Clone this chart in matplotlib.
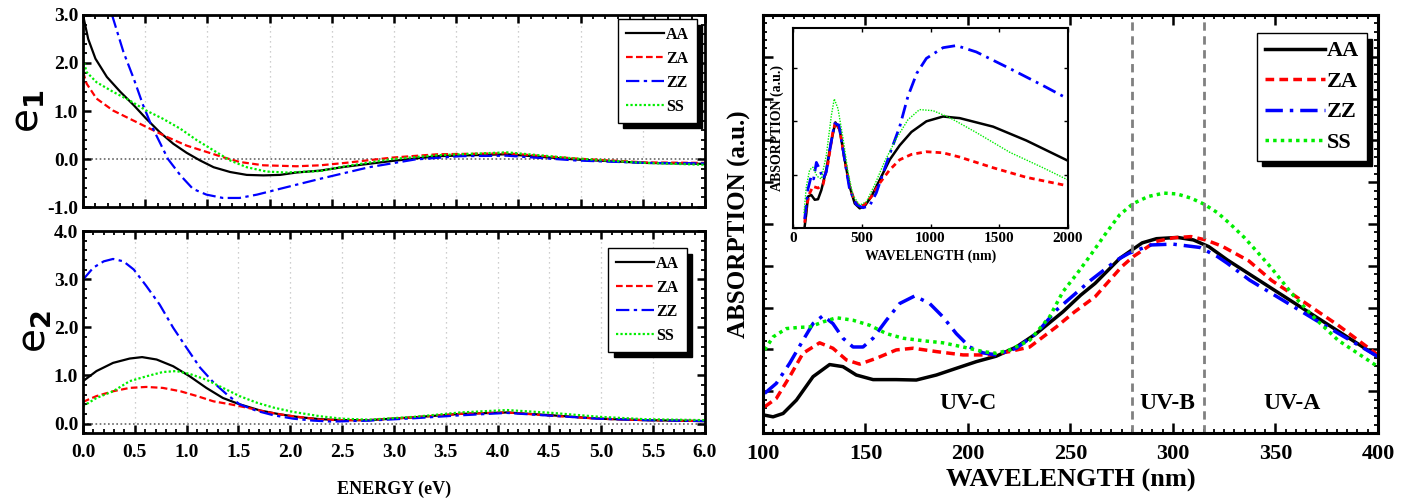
import numpy as np
import matplotlib
matplotlib.use('Agg')
import matplotlib.pyplot as plt
from matplotlib.ticker import MultipleLocator, NullFormatter

plt.rcParams['font.family'] = ['Liberation Serif', 'DejaVu Serif']
plt.rcParams['font.weight'] = 'bold'
plt.rcParams['axes.labelweight'] = 'bold'
plt.rcParams['mathtext.fontset'] = 'dejavusans'

## ---------------- e1 (real part) ----------------
e1_aa_x = [0.0, 0.05, 0.12, 0.23, 0.36, 0.49, 0.61, 0.74, 0.87, 1.0, 1.13, 1.26, 1.42, 1.58, 1.74, 1.9, 2.06, 2.29,
           2.53, 2.98, 3.42, 4.09, 4.76, 5.42, 6.0]
e1_aa_y = [3.0, 2.5, 2.09, 1.71, 1.4, 1.12, 0.84, 0.56, 0.32, 0.13, -0.03, -0.17, -0.27, -0.33, -0.34, -0.33, -0.28, -0.24,
           -0.16, -0.04, 0.06, 0.1, -0.01, -0.08, -0.1]

e1_za_x = [0.0, 0.035, 0.13, 0.29, 0.45, 0.61, 0.81, 1.0, 1.19, 1.35, 1.51, 1.74, 2.06, 2.29, 2.53, 2.98, 3.42, 4.09, 4.76,
           5.42, 6.0]
e1_za_y = [1.81, 1.57, 1.26, 1.01, 0.84, 0.67, 0.46, 0.28, 0.15, 0.04, -0.06, -0.13, -0.15, -0.13, -0.08, 0.03, 0.1, 0.12,
           0.01, -0.07, -0.08]

e1_zz_x = [0.28, 0.39, 0.49, 0.58, 0.66, 0.74, 0.82, 0.94, 1.06, 1.19, 1.35, 1.51, 1.68, 1.9, 2.29, 2.76, 3.2, 3.64, 4.09,
           4.76, 5.42, 6.0]
e1_zz_y = [3.0, 2.23, 1.67, 1.12, 0.7, 0.35, 0.0, -0.34, -0.62, -0.74, -0.81, -0.81, -0.74, -0.62, -0.41, -0.17, -0.01,
           0.06, 0.07, -0.03, -0.08, -0.09]

e1_ss_x = [0.0, 0.035, 0.13, 0.29, 0.45, 0.61, 0.77, 0.94, 1.1, 1.26, 1.42, 1.58, 1.77, 1.96, 2.29, 2.53, 2.98, 3.42,
           4.09, 4.76, 5.42, 6.0]
e1_ss_y = [2.09, 1.81, 1.6, 1.4, 1.22, 1.01, 0.84, 0.63, 0.39, 0.18, -0.03, -0.17, -0.26, -0.28, -0.25, -0.15, 0.0, 0.08,
           0.14, 0.01, -0.08, -0.12]

## ---------------- e2 (imaginary part) ----------------
e2_aa_x = [0.0, 0.13, 0.29, 0.45, 0.57, 0.71, 0.87, 1.03, 1.19, 1.35, 1.51, 1.71, 1.9, 2.09, 2.29, 2.5, 2.76, 3.2, 3.64,
           4.09, 4.53, 4.98, 5.42, 6.0]
e2_aa_y = [0.88, 1.09, 1.26, 1.35, 1.38, 1.33, 1.19, 0.98, 0.74, 0.53, 0.4, 0.27, 0.19, 0.13, 0.09, 0.07, 0.07, 0.13, 0.2,
           0.23, 0.17, 0.1, 0.07, 0.05]

e2_za_x = [0.0, 0.13, 0.29, 0.45, 0.61, 0.77, 0.94, 1.1, 1.26, 1.42, 1.58, 1.77, 1.96, 2.29, 2.5, 2.76, 3.2, 3.64, 4.09,
           4.53, 4.98, 5.42, 6.0]
e2_za_y = [0.45, 0.57, 0.67, 0.74, 0.76, 0.74, 0.67, 0.57, 0.46, 0.4, 0.33, 0.24, 0.17, 0.08, 0.07, 0.07, 0.13, 0.2, 0.23,
           0.16, 0.1, 0.07, 0.05]

e2_zz_x = [0.0, 0.1, 0.2, 0.29, 0.39, 0.49, 0.61, 0.74, 0.87, 1.0, 1.13, 1.26, 1.39, 1.51, 1.68, 1.84, 2.03, 2.22, 2.4,
           2.76, 3.2, 3.64, 4.09, 4.53, 4.98, 5.42, 6.0]
e2_zz_y = [2.99, 3.24, 3.37, 3.42, 3.37, 3.2, 2.86, 2.47, 1.99, 1.57, 1.16, 0.85, 0.6, 0.4, 0.26, 0.17, 0.1, 0.06, 0.04,
           0.06, 0.11, 0.17, 0.22, 0.16, 0.1, 0.07, 0.05]

e2_ss_x = [0.0, 0.13, 0.29, 0.45, 0.61, 0.77, 0.9, 1.03, 1.19, 1.35, 1.51, 1.68, 1.84, 2.03, 2.29, 2.5, 2.76, 3.2, 3.64,
           4.09, 4.53, 4.98, 5.42, 6.0]
e2_ss_y = [0.36, 0.53, 0.67, 0.88, 0.98, 1.07, 1.09, 1.03, 0.91, 0.74, 0.57, 0.43, 0.33, 0.24, 0.15, 0.1, 0.08, 0.14,
           0.23, 0.28, 0.22, 0.14, 0.09, 0.07]

## ---------------- absorption, UV range (a.u.) ----------------
abs_aa_x = [100.8, 104.9, 109.8, 116.3, 124.4, 132.5, 139.0, 145.5, 153.7, 165.0, 174.8, 184.6, 194.3, 204.1, 213.8,
            223.6, 233.3, 246.3, 255, 262, 274.1, 285, 292, 302.3, 310, 317.5, 326.6, 337.4, 348.2, 359.0, 369.8,
            380.6, 400]
abs_aa_y = [0.043, 0.039, 0.047, 0.079, 0.135, 0.164, 0.159, 0.139, 0.128, 0.128, 0.127, 0.139, 0.155, 0.171, 0.184,
            0.206, 0.238, 0.29, 0.33, 0.358, 0.418, 0.455, 0.465, 0.468, 0.462, 0.446, 0.414, 0.38, 0.346, 0.312, 0.278,
            0.244, 0.183]

abs_za_x = [100.8, 106.5, 113.0, 119.5, 127.6, 134.1, 140.7, 147.2, 155.3, 165.0, 173.2, 184.6, 197.6, 210.6, 220.3,
            230.1, 243.1, 252, 262, 275, 280.6, 291.5, 300, 308.8, 316, 324, 337, 348.2, 359.0, 369.8, 380.6, 400]
abs_za_y = [0.063, 0.083, 0.135, 0.191, 0.216, 0.203, 0.175, 0.165, 0.179, 0.199, 0.203, 0.195, 0.187, 0.187, 0.195,
            0.206, 0.254, 0.29, 0.326, 0.398, 0.422, 0.458, 0.467, 0.47, 0.462, 0.447, 0.412, 0.365, 0.33, 0.294, 0.258,
            0.187]

abs_zz_x = [100.8, 106.5, 113.0, 119.5, 124.4, 129.3, 134.1, 139.0, 143.9, 148.8, 153.7, 160.2, 166.7, 174.0, 181.3,
            187.8, 194.3, 200.8, 207.3, 213.8, 223.6, 233.3, 243.1, 260, 272.7, 278.5, 289.3, 300, 313.2, 321.8, 326.6,
            337.4, 348.2, 359.0, 369.8, 380.6, 400]
abs_zz_y = [0.095, 0.119, 0.167, 0.222, 0.262, 0.281, 0.262, 0.227, 0.206, 0.206, 0.227, 0.27, 0.31, 0.328, 0.31, 0.278,
            0.238, 0.206, 0.192, 0.187, 0.203, 0.238, 0.294, 0.366, 0.414, 0.43, 0.45, 0.452, 0.444, 0.422, 0.406, 0.366,
            0.334, 0.302, 0.27, 0.239, 0.183]

abs_ss_x = [100.8, 104.9, 111.4, 117.9, 122.8, 129.3, 135.8, 143.9, 152.0, 160.2, 168.3, 178.0, 187.8, 197.6, 207.3,
            213.8, 220.3, 230.1, 239.8, 246.3, 253, 259, 267.6, 274, 280.6, 288, 295.6, 302, 308.8, 315, 321.8, 328,
            334.8, 341.4, 348.2, 359.0, 369.8, 380.6, 400]
abs_ss_y = [0.199, 0.23, 0.25, 0.253, 0.254, 0.266, 0.276, 0.27, 0.258, 0.238, 0.227, 0.221, 0.216, 0.206, 0.195, 0.191,
            0.199, 0.222, 0.278, 0.338, 0.38, 0.42, 0.48, 0.522, 0.549, 0.566, 0.574, 0.572, 0.562, 0.548, 0.527, 0.5,
            0.468, 0.432, 0.394, 0.328, 0.272, 0.222, 0.159]

## ---------------- absorption, full range (inset) ----------------
ins_aa_x = [85, 97, 109, 133, 158, 182, 206, 242, 279, 308, 340, 376, 412, 449, 485, 521, 570, 630, 703, 776, 861, 970,
            1091, 1212, 1455, 1697, 2000]
ins_aa_y = [0.03, 0.28, 0.59, 0.62, 0.53, 0.54, 0.71, 1.09, 1.63, 1.98, 1.84, 1.28, 0.78, 0.46, 0.37, 0.41, 0.59, 0.9,
            1.28, 1.55, 1.8, 2.0, 2.09, 2.06, 1.9, 1.64, 1.26]

ins_za_x = [85, 97, 121, 145, 182, 218, 255, 291, 310, 340, 376, 412, 449, 485, 521, 570, 630, 703, 776, 861, 970, 1091,
            1212, 1455, 1697, 2000]
ins_za_y = [0.1, 0.4, 0.65, 0.78, 0.75, 0.81, 1.22, 1.82, 1.98, 1.84, 1.28, 0.78, 0.5, 0.4, 0.44, 0.59, 0.84, 1.09, 1.28,
            1.38, 1.43, 1.41, 1.33, 1.13, 0.95, 0.79]

ins_zz_x = [85, 109, 133, 150, 170, 194, 218, 242, 273, 303, 334, 376, 412, 461, 509, 558, 606, 655, 715, 776, 836, 900,
            970, 1091, 1188, 1333, 1576, 1818, 2000]
ins_zz_y = [0.17, 0.73, 0.98, 0.92, 1.23, 1.1, 0.92, 1.05, 1.55, 1.96, 1.93, 1.28, 0.72, 0.44, 0.38, 0.42, 0.66, 1.03,
            1.47, 1.9, 2.47, 2.9, 3.18, 3.38, 3.42, 3.3, 2.99, 2.67, 2.42]

ins_ss_x = [80, 97, 121, 145, 175, 206, 242, 279, 300, 327, 364, 400, 436, 485, 533, 594, 667, 752, 836, 920, 1018, 1139,
            1333, 1576, 1818, 2000]
ins_ss_y = [0.28, 0.78, 1.09, 1.14, 0.97, 0.92, 1.36, 2.11, 2.42, 2.24, 1.68, 1.05, 0.61, 0.43, 0.49, 0.81, 1.25, 1.68,
            2.03, 2.22, 2.2, 2.07, 1.79, 1.42, 1.13, 0.9]

labels = ['AA', 'ZA', 'ZZ', 'SS']
colors = ['black', 'red', 'blue', '#00ee00']
styles = ['-', (0, (3, 1.5)), (0, (6, 2, 1.5, 2)), (0, (1, 1))]

fig = plt.figure(figsize=(14.07, 4.99), dpi=100)

def style_axes(ax, lw=2.0):
    for s in ax.spines.values():
        s.set_linewidth(lw)
    ax.tick_params(which='both', direction='in', top=True, right=True)
    ax.tick_params(which='major', length=6, width=1.8)
    ax.tick_params(which='minor', length=3, width=1.3)

shadow = {'color': 'black', 'alpha': 1, 'ox': 4, 'oy': -4}

## ---------------- left panels ----------------
ax1 = fig.add_axes([0.059, 0.585, 0.442, 0.385])
ax2 = fig.add_axes([0.059, 0.132, 0.442, 0.405])

e1_data = [(e1_aa_x, e1_aa_y), (e1_za_x, e1_za_y), (e1_zz_x, e1_zz_y), (e1_ss_x, e1_ss_y)]
e2_data = [(e2_aa_x, e2_aa_y), (e2_za_x, e2_za_y), (e2_zz_x, e2_zz_y), (e2_ss_x, e2_ss_y)]

for ax, data, anchor in [(ax1, e1_data, (0.987, 0.979)), (ax2, e2_data, (0.971, 0.916))]:
    ax.axhline(0, color='0.4', ls=(0, (1, 1.5)), lw=1.2, zorder=1)
    for (x, y), lab, c, ls in zip(data, labels, colors, styles):
        ax.plot(x, y, color=c, ls=ls, lw=1.6, label=lab)
    style_axes(ax)
    ax.set_xlim(0, 6)
    ax.yaxis.set_major_locator(MultipleLocator(1.0))
    ax.yaxis.set_minor_locator(MultipleLocator(0.2))
    ax.yaxis.set_major_formatter(plt.FormatStrFormatter('%.1f'))
    ax.tick_params(axis='y', labelsize=14)
    ax.grid(axis='x', which='major', color='0.75', ls=(0, (1, 3)), lw=0.9)
    leg = ax.legend(loc='upper right', fontsize=11.5, frameon=True, fancybox=False, shadow=shadow,
                    handlelength=2.4, borderpad=0.5, labelspacing=0.5, handletextpad=0.1,
                    borderaxespad=0, bbox_to_anchor=anchor)
    leg.get_frame().set_edgecolor('black')
    leg.get_frame().set_linewidth(1.0)
    leg.get_frame().set_alpha(1)

ax1.set_ylim(-1, 3)
ax1.xaxis.set_major_locator(MultipleLocator(0.6))
ax1.xaxis.set_minor_locator(MultipleLocator(0.12))
ax1.xaxis.set_major_formatter(NullFormatter())
ax1.set_ylabel('e$_1$', fontsize=28, family='DejaVu Sans', fontweight='normal', labelpad=0)

ax2.set_ylim(-0.2, 4.0)
ax2.xaxis.set_major_locator(MultipleLocator(0.5))
ax2.xaxis.set_minor_locator(MultipleLocator(0.1))
ax2.xaxis.set_major_formatter(plt.FormatStrFormatter('%.1f'))
ax2.tick_params(axis='x', labelsize=14, pad=8)
ax2.set_ylabel('e$_2$', fontsize=28, family='DejaVu Sans', fontweight='normal', labelpad=0)
ax2.set_xlabel('ENERGY (eV)', fontsize=13, labelpad=14)

## ---------------- right panel ----------------
ax3 = fig.add_axes([0.5423, 0.132, 0.437, 0.838])
abs_data = [(abs_aa_x, abs_aa_y), (abs_za_x, abs_za_y), (abs_zz_x, abs_zz_y), (abs_ss_x, abs_ss_y)]
main_styles = ['-', (0, (2.5, 1.5)), (0, (5, 2, 1, 2)), (0, (1, 1.2))]
for (x, y), lab, c, ls in zip(abs_data, labels, colors, main_styles):
    ax3.plot(x, y, color=c, ls=ls, lw=2.5, label=lab)
for xv in [280, 315]:
    ax3.axvline(xv, color='0.5', ls=(0, (3, 2)), lw=2.0)
ax3.text(200, 0.072, 'UV-C', ha='center', va='center', fontsize=17)
ax3.text(297.5, 0.072, 'UV-B', ha='center', va='center', fontsize=17)
ax3.text(358, 0.072, 'UV-A', ha='center', va='center', fontsize=17)
style_axes(ax3, 2.2)
ax3.set_xlim(100, 400)
ax3.set_ylim(0, 1)
ax3.xaxis.set_major_locator(MultipleLocator(50))
ax3.xaxis.set_minor_locator(MultipleLocator(5))
ax3.yaxis.set_major_locator(MultipleLocator(0.1))
ax3.yaxis.set_minor_locator(MultipleLocator(0.02))
ax3.yaxis.set_major_formatter(NullFormatter())
ax3.tick_params(which='major', length=7)
ax3.tick_params(axis='x', labelsize=16, pad=8)
ax3.set_xlabel('WAVELENGTH (nm)', fontsize=19, labelpad=3)
ax3.set_ylabel('ABSORPTION (a.u.)', fontsize=18, labelpad=5)
leg = ax3.legend(loc='upper right', fontsize=16, frameon=True, fancybox=False, shadow=shadow,
                 handlelength=2.7, borderpad=0.35, labelspacing=0.45, handletextpad=0.1,
                 borderaxespad=0, bbox_to_anchor=(0.982, 0.957))
leg.get_frame().set_edgecolor('black')
leg.get_frame().set_linewidth(1.0)
leg.get_frame().set_alpha(1)

## ---------------- inset ----------------
ax4 = fig.add_axes([0.5636, 0.543, 0.1955, 0.401])
ins_data = [(ins_aa_x, ins_aa_y), (ins_za_x, ins_za_y), (ins_zz_x, ins_zz_y), (ins_ss_x, ins_ss_y)]
ins_styles = ['-', (0, (2, 1.5)), (0, (5, 2, 1, 2)), (0, (1, 1))]
ins_lw = [1.8, 2.0, 2.0, 1.0]
for (x, y), c, ls, lw in zip(ins_data, colors, ins_styles, ins_lw):
    ax4.plot(x, y, color=c, ls=ls, lw=lw)
for s in ax4.spines.values():
    s.set_linewidth(1.5)
ax4.tick_params(which='both', direction='in', top=True, right=True, length=3, width=1.0)
ax4.set_xlim(0, 2000)
ax4.set_ylim(0, 3.75)
ax4.xaxis.set_major_locator(MultipleLocator(500))
ax4.yaxis.set_major_locator(MultipleLocator(1))
ax4.yaxis.set_major_formatter(NullFormatter())
ax4.tick_params(axis='x', labelsize=11, pad=3)
ax4.set_xlabel('WAVELENGTH (nm)', fontsize=10, labelpad=3)
ax4.set_ylabel('ABSORPTION (a.u.)', fontsize=10, labelpad=3)

plt.savefig('out.png', dpi=100)
